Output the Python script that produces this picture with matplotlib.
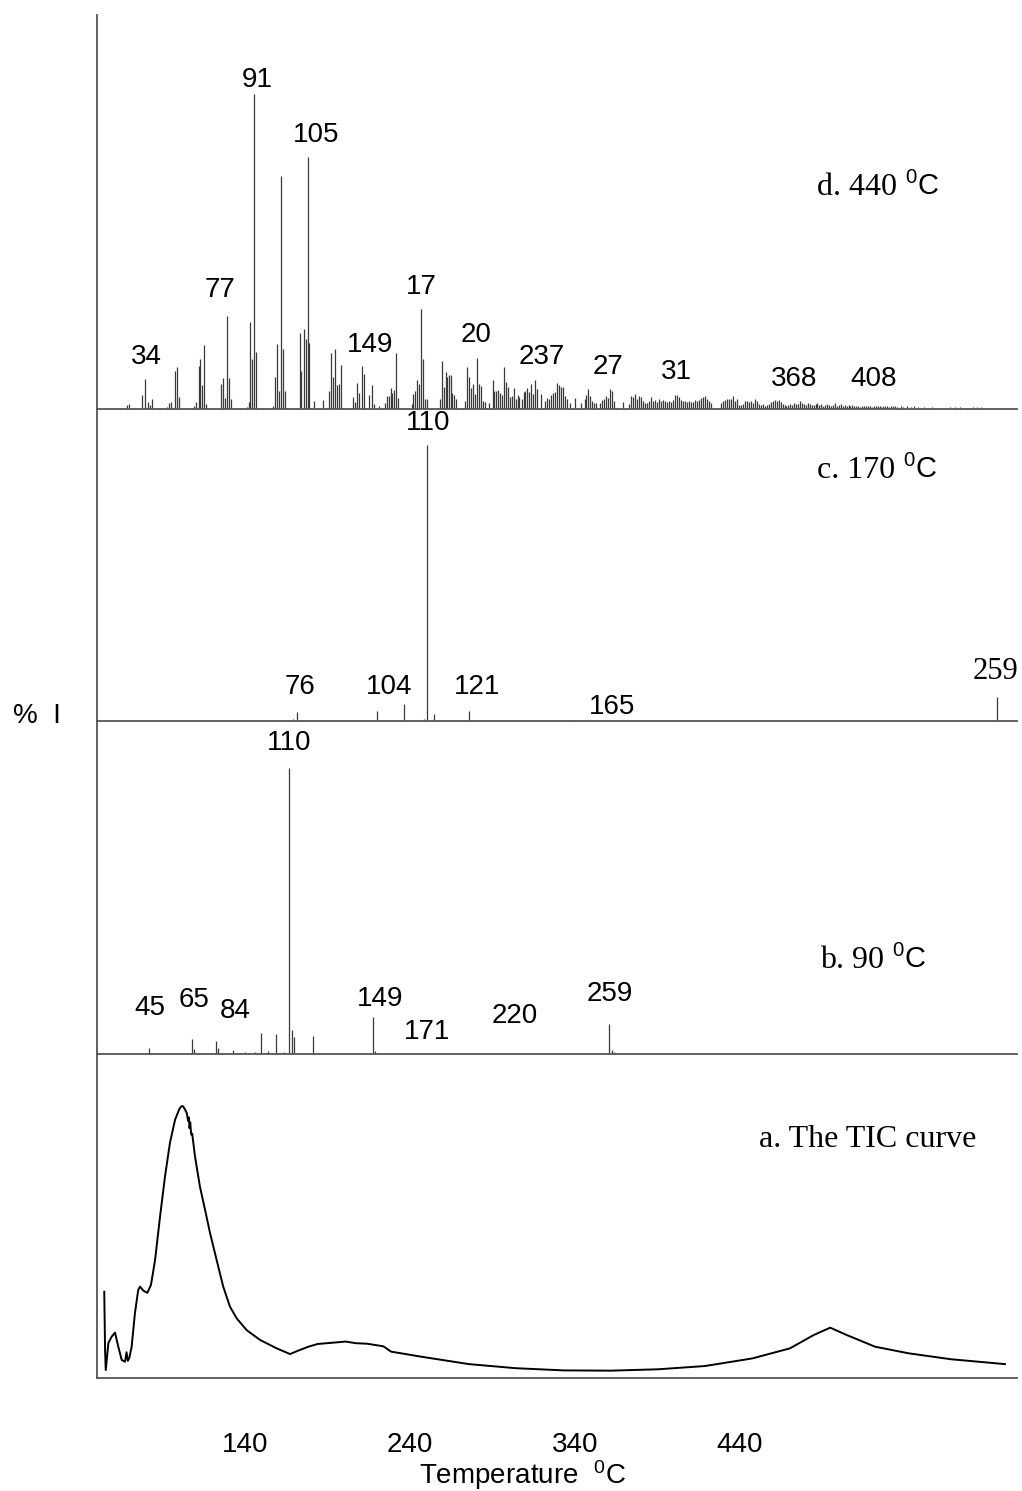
"""
Stacked py-MS figure: TIC curve of the thermal run with the mass spectra
taken at 90, 170 and 440 degC above it.
"""

import numpy as np
import matplotlib
matplotlib.use("Agg")
import matplotlib.pyplot as plt

plt.rcParams.update({
    "font.family": "Liberation Sans",
    "mathtext.fontset": "custom",
    "mathtext.rm": "Liberation Sans",
    "mathtext.sf": "Liberation Sans",
    "mathtext.it": "Liberation Sans:italic",
    "mathtext.bf": "Liberation Sans:bold",
})

# ---------------------------------------------------------------
#  Data
# ---------------------------------------------------------------
# d. 440 degC spectrum (m/z, relative intensity %)
d_mz = [
    25.0, 26.1, 32.8, 34.0, 35.9, 36.9, 37.9,
    45.7, 46.7, 47.6, 49.6, 50.8, 51.8,
    59.6, 60.6, 61.8, 62.7, 63.6, 64.6, 65.6,
    73.3, 74.3, 75.4, 76.3, 77.3, 78.5,
    86.6, 87.6, 88.5, 89.5, 90.2, 91.4,
    100.2, 101.2, 102.2, 103.3, 104.1, 105.2, 106.2,
    114.0, 114.8, 116.0, 117.0, 118.1, 118.9, 121.2,
    125.8, 128.9, 129.9, 130.9, 132.0, 133.0, 134.0, 135.1,
    141.6, 142.6, 143.6, 144.7, 145.9, 146.9, 149.8, 151.1, 152.1,
    155.0, 157.8, 158.8, 159.8, 160.9, 161.7, 162.7, 163.8, 164.8,
    171.7, 172.5, 173.6, 174.6, 175.6, 176.5, 177.5, 178.6, 179.8,
    186.4, 187.4, 188.5, 189.2, 190.1, 190.9, 191.8, 192.6, 193.7, 194.7,
    199.3, 200.4, 201.4, 202.3, 203.3, 204.3, 205.2, 206.4, 207.4, 208.3, 209.3,
    211.4, 213.5, 214.3, 215.3, 216.4, 217.4, 218.3, 219.3, 220.3, 221.4, 222.4, 223.3,
    224.3, 225.3, 226.4, 227.2, 228.4, 229.5, 230.3, 231.2, 232.2, 233.2, 234.3, 235.3, 236.2, 238.2,
    240.4, 241.5, 242.5, 243.5, 244.6, 245.6, 246.6, 247.7, 248.7, 249.7, 250.8, 251.8, 253.2, 256.1, 258.9,
    260.9, 261.8, 262.8, 263.8, 264.8, 265.9, 266.9, 268.9, 270.0, 271.0, 272.0, 273.1, 274.1, 275.1, 276.2, 280.8,
    283.9, 284.9, 286.0, 287.0, 288.0, 289.1, 290.1, 291.1, 292.2, 293.2, 294.2, 295.3, 296.3, 297.3, 298.4, 299.4,
    300.4, 301.5, 302.5, 303.5, 304.6, 305.6, 306.6, 307.6, 308.7, 309.7, 310.7, 311.8, 312.8, 313.8, 314.9, 315.9,
    316.9, 318.0, 319.0, 320.0, 321.1, 322.1, 323.1, 324.2, 325.2, 326.2,
    331.4, 332.4, 333.4, 334.5, 335.5, 336.5, 337.6, 338.6, 339.6, 340.7, 341.7, 342.7, 343.7, 344.8, 345.8, 346.8, 347.9, 348.9, 349.9,
    351, 352, 353, 354, 355, 356, 357, 358, 359, 360,
    361, 362, 363, 364, 365, 366, 367, 368, 369, 370,
    371, 372, 373, 374, 375, 376, 377, 378, 379, 380,
    381, 382, 383, 384, 385, 386, 387, 388, 389, 390,
    391, 392, 393, 394, 395, 396, 397, 398, 399, 400,
    401, 402, 403, 404, 405, 406, 407, 408, 409, 410,
    411, 412, 413, 414, 415, 416, 417, 418, 419, 420,
    421, 422, 424, 425, 427, 429, 431, 433, 436, 440,
    449.3, 451.9, 454.5, 461.2, 463.2, 465.3,
]
d_int = [
    1.1, 1.5, 4.2, 9.3, 2.1, 1.2, 3.1,
    0.4, 1.8, 2.1, 12.0, 13.2, 3.6,
    0.8, 2.1, 13.6, 15.7, 7.5, 20.2, 1.6,
    7.9, 9.8, 3.4, 29.6, 9.8, 3.2,
    0.4, 2.1, 27.7, 15.8, 100.0, 18.0,
    0.8, 10.2, 20.6, 5.7, 74.0, 19.0, 5.6,
    24.0, 12.0, 25.3, 22.0, 80.0, 21.0, 2.3,
    2.8, 5.7, 17.6, 10.1, 19.0, 7.4, 8.0, 14.0,
    3.8, 2.2, 8.3, 5.0, 13.6, 11.0, 4.5, 7.5, 1.6,
    1.0, 1.8, 3.9, 4.0, 6.6, 5.0, 6.0, 17.7, 3.5,
    1.5, 4.6, 5.5, 9.1, 7.9, 31.6, 15.7, 3.0, 3.0,
    3.2, 15.3, 7.0, 11.7, 10.2, 10.6, 10.7, 4.9, 4.2, 3.0,
    2.3, 13.4, 10.0, 6.6, 7.7, 4.6, 16.2, 7.7, 7.3, 2.3, 2.1,
    1.7, 9.1, 5.5, 5.7, 5.9, 5.1, 4.2, 13.2, 8.5, 7.0, 3.6, 4.0,
    6.6, 3.2, 4.5, 3.8, 3.2, 5.3, 5.5, 6.6, 5.3, 7.9, 4.7, 9.1, 6.4, 4.7,
    2.3, 3.4, 3.2, 4.5, 4.9, 5.3, 8.3, 7.4, 7.0, 7.0, 4.0, 3.0, 1.7, 3.4, 1.7,
    3.0, 4.2, 6.2, 4.0, 2.3, 1.9, 1.7, 1.7, 2.8, 3.2, 4.0, 3.4, 6.4, 5.5, 2.3, 2.1,
    1.5, 4.0, 3.6, 4.7, 3.2, 4.0, 3.8, 2.5, 1.7, 1.7, 2.5, 3.6, 2.3, 2.8, 2.1, 3.2,
    2.5, 2.8, 2.5, 2.1, 2.3, 2.1, 2.8, 4.2, 4.5, 3.6, 2.8, 2.5, 2.3, 2.1, 2.5, 2.1,
    2.1, 2.8, 2.5, 2.8, 3.4, 3.6, 4.0, 3.2, 2.3, 1.7,
    1.9, 2.3, 2.8, 3.0, 3.2, 3.0, 4.0, 2.3, 3.2, 1.3, 1.3, 1.5, 2.5, 2.3, 2.1, 2.5, 1.9, 3.2, 2.3,
    1.6, 1.3, 1.6, 1.0, 1.3, 1.5, 2.2, 2.6, 2.9, 2.6,
    2.9, 2.2, 1.6, 1.3, 1.0, 1.3, 1.6, 1.3, 1.9, 1.6,
    1.6, 2.5, 1.9, 1.6, 1.3, 1.9, 1.6, 1.3, 1.3, 1.6,
    1.9, 1.3, 1.6, 1.0, 1.3, 1.6, 1.3, 1.0, 1.3, 1.9,
    1.0, 1.3, 1.6, 1.0, 1.3, 0.9, 1.3, 1.0, 1.3, 1.0,
    0.7, 0.9, 0.6, 0.8, 0.9, 0.7, 1.0, 0.8, 0.6, 0.9,
    0.8, 0.7, 0.9, 0.6, 0.8, 0.7, 0.9, 0.6, 0.8, 0.7,
    0.7, 0.6, 0.8, 0.6, 0.7, 0.6, 0.7, 0.6, 0.6, 0.5,
    0.5, 0.6, 0.5, 0.4, 0.5, 0.4,
]
d_labels = ["34", "77", "91", "105", "149", "17", "20", "237", "27", "31", "368", "408"]
d_label_mz = [35.0, 72.8, 91.8, 122.3, 150.2, 176.5, 204.9, 238.7, 273.1, 308.4, 368.9, 409.8]
d_label_y = [16.5, 37.7, 104.4, 87.0, 20.2, 38.7, 23.4, 16.3, 13.3, 11.8, 9.3, 9.3]

# c. 170 degC spectrum
c_mz = [74.9, 76, 76.8, 97.0, 104, 109.1, 110, 111.9, 121, 148, 259]
c_int = [0.6, 3.3, 0.4, 3.6, 6.0, 0.8, 100, 2.5, 3.6, 0.4, 8.7]
c_labels = ["76", "104", "110", "121", "165"]
c_label_mz = [76.8, 100.1, 110.2, 123.0, 158.4]
c_label_y = [12.4, 12.4, 108.0, 12.4, 5.1]

# b. 90 degC spectrum
b_mz = [45, 65, 65.9, 76, 77.1, 84.1, 85.3, 87.2, 89.5, 91.8, 94.2, 96.8,
        100.2, 103.8, 107.5, 110, 111.3, 112.3, 121.2, 149, 150, 259, 260.2, 261.1]
b_int = [2.2, 5.1, 1.6, 4.5, 2.0, 1.4, 0.5, 0.35, 0.7, 0.5, 0.7, 7.2,
         1.0, 6.9, 0.8, 100, 8.4, 5.9, 6.3, 12.9, 1.0, 10.5, 1.4, 0.7]
b_labels = ["45", "65", "84", "110", "149", "171", "220", "259"]
b_label_mz = [45.3, 65.8, 84.9, 110.2, 152.4, 174.2, 215.2, 259.4]
b_label_y = [16.1, 18.9, 15.0, 108.7, 19.2, 7.7, 13.3, 20.9]

# a. total ion current vs temperature
tic_T = [54.7, 55.2, 55.6, 57.2, 59.2, 61.2, 63.2, 65.3, 67.3, 68.2,
         69.0, 69.9, 71.3, 73.3, 75.3, 76.4, 78.4, 80.8, 83.0, 85.5,
         88.5, 91.5, 94.5, 97.6, 100.2, 101.3, 102.2, 103.4, 104.7, 105.5,
         106.0, 106.4, 106.8, 107.4, 108.0, 109.7, 112.7, 115.8, 118.8, 122.8,
         126.8, 130.9, 135.0, 141.0, 149.1, 159.2, 167.3, 172.0, 178.4, 184.0,
         189.7, 195.6, 201.0, 207.0, 214.0, 221.3, 224.0, 228.5, 247.1, 275.8,
         304.2, 333.0, 361.6, 390.3, 418.8, 447.5, 470.3, 484.7, 494.7, 504.7,
         521.9, 542.0, 567.8, 600.6]
tic_I = [31.7, 10.0, 2.9, 12.9, 15.2, 16.7, 11.5, 6.6, 6.0, 9.5,
         6.3, 7.4, 11.5, 23.9, 32.4, 33.6, 32.1, 31.3, 34.2, 43.4,
         59.3, 74.0, 86.4, 94.9, 98.9, 99.8, 100.0, 99.0, 97.4, 94.5,
         95.8, 91.8, 94.0, 89.5, 89.8, 81.4, 70.3, 61.8, 53.3, 43.4,
         33.6, 26.2, 21.9, 17.6, 14.0, 10.9, 8.8, 10.0, 11.5, 12.5,
         12.8, 13.1, 13.4, 12.8, 12.6, 11.9, 11.6, 9.7, 7.8, 5.1,
         3.6, 2.8, 2.7, 3.2, 4.4, 7.2, 10.9, 15.8, 18.5, 15.8,
         11.5, 9.1, 6.9, 5.1]
tic_ticks = [140, 240, 340, 440]

# ---------------------------------------------------------------
#  Layout
# ---------------------------------------------------------------
W, H = 1022, 1491
LINE = "#3a3a3a"
AXIS = "#555555"
LABEL_FS = 20
TITLE_FS = 23

fig = plt.figure(figsize=(W / 100, H / 100), dpi=100)


def make_axes(top, bottom):
    """Open-frame axes between two pixel rows, left spine + baseline only."""
    ax = fig.add_axes([97 / W, 1 - bottom / H, 920 / W, (bottom - top) / H])
    for side in ("top", "right"):
        ax.spines[side].set_visible(False)
    for side in ("left", "bottom"):
        ax.spines[side].set_color(AXIS)
        ax.spines[side].set_linewidth(1.3)
    ax.set_xticks([])
    ax.set_yticks([])
    ax.patch.set_alpha(0)
    return ax


def spectrum(ax, mz, inten, labels, lab_mz, lab_y):
    ax.vlines(mz, 0, inten, color=LINE, linewidth=0.9)
    for s, x, y in zip(labels, lab_mz, lab_y):
        ax.text(x, y, s, ha="center", va="center", fontsize=LABEL_FS)


titles = []


def panel_title(ax, x, y, head):
    # serif head ("d. 440"), then a sans "0C" tacked on after it
    t = ax.text(x, y, head, ha="left", va="baseline",
                family="Liberation Serif", fontsize=TITLE_FS)
    titles.append((ax, t, y))


ax_d = make_axes(15, 408.7)
ax_c = make_axes(408.7, 721)
ax_b = make_axes(721, 1054)
ax_a = make_axes(1054, 1378)

# d. 440 degC
spectrum(ax_d, d_mz, d_int, d_labels, d_label_mz, d_label_y)
ax_d.set_xlim(9.4, 483.9)
ax_d.set_ylim(0, 125.1)
panel_title(ax_d, 380.7, 68.0, "d. 440")

# c. 170 degC
spectrum(ax_c, c_mz, c_int, c_labels, c_label_mz, c_label_y)
ax_c.text(258.8, 17.8, "259", ha="center", va="center",
          family="Liberation Serif", fontsize=22)
ax_c.set_xlim(23.7, 264.3)
ax_c.set_ylim(0, 113.2)
panel_title(ax_c, 212.0, 88.0, "c. 170")

# b. 90 degC
spectrum(ax_b, b_mz, b_int, b_labels, b_label_mz, b_label_y)
ax_b.set_xlim(20.6, 448.9)
ax_b.set_ylim(0, 116.4)
panel_title(ax_b, 357.2, 30.0, "b. 90")

# a. TIC curve
ax_a.plot(tic_T, tic_I, color="black", linewidth=1.4)
ax_a.set_xlim(50.3, 607.9)
ax_a.set_ylim(0, 119.1)
ax_a.set_xticks(tic_ticks)
ax_a.set_xticklabels([str(t) for t in tic_ticks])
ax_a.tick_params(axis="x", length=0, pad=39, labelsize=LABEL_FS)
ax_a.text(451.5, 87.5, "a. The TIC curve", ha="left", va="center",
          family="Liberation Serif", fontsize=TITLE_FS)

fig.text(522 / W, 1 - 1475 / H, r"Temperature  $^{0}$C",
         ha="center", va="center", fontsize=LABEL_FS)
fig.text(13 / W, 1 - 716 / H, "%  I", ha="left", va="center", fontsize=LABEL_FS)

# degree units after the serif panel titles, placed once text extents are known
fig.canvas.draw()
for ax, t, y in titles:
    bb = t.get_window_extent()
    x_end = ax.transData.inverted().transform((bb.x1, bb.y0))[0]
    ax.text(x_end, y, r" $^{0}$C", ha="left", va="baseline", fontsize=LABEL_FS + 1)

fig.savefig("out.png", dpi=100)
